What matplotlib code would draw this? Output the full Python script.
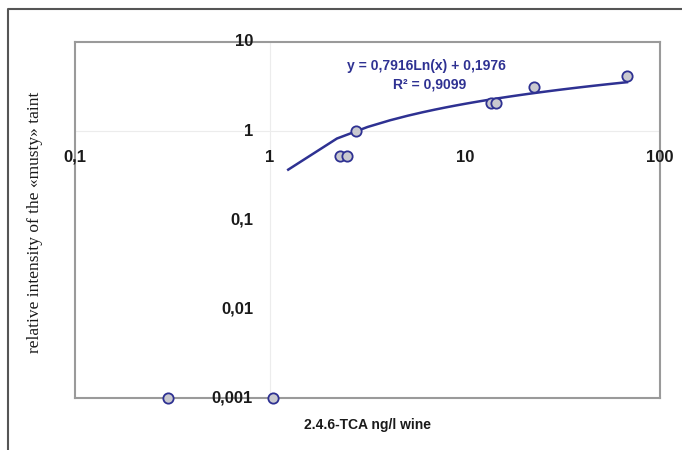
import numpy as np
import matplotlib
matplotlib.use("Agg")
import matplotlib.pyplot as plt
from matplotlib.transforms import offset_copy

# measured points (TCA ng/l vs relative musty intensity)
tca = [0.3, 1.03, 2.29, 2.48, 2.76, 13.6, 14.4, 22.6, 67.7]
intensity = [0.001, 0.001, 0.52, 0.52, 1.0, 2.06, 2.06, 3.12, 4.1]

# logarithmic trend line as printed on the chart
coef_a = 0.7916
coef_b = 0.1976
trend_start, trend_end = 1.24, 67.7

x_ticks = [0.1, 1, 10, 100]
x_tick_labels = ["0,1", "1", "10", "100"]
y_ticks = [10, 1, 0.1, 0.01, 0.001]
y_tick_labels = ["10", "1", "0,1", "0,01", "0,001"]

navy = "#2e3192"
plt.rcParams["font.family"] = ["Liberation Sans", "DejaVu Sans"]

fig = plt.figure(figsize=(6.82, 4.5), dpi=100)
ax = fig.add_axes([75 / 682, 1 - 398 / 450, 585 / 682, 356 / 450])
ax.set_xscale("log")
ax.set_yscale("log")
ax.set_xlim(0.1, 100)
ax.set_ylim(0.001, 10)
ax.set_xticks([])
ax.set_yticks([])
ax.minorticks_off()
for s in ax.spines.values():
    s.set_color("#9a9a9a")
    s.set_linewidth(1.5)

# faint axis lines crossing at 1
ax.axhline(1, color="#ececec", lw=0.8, zorder=0)
ax.axvline(1, color="#ececec", lw=0.8, zorder=0)

# trend line (Excel-like coarse sampling)
xt = np.linspace(trend_start, trend_end, 70)
yt = coef_a * np.log(xt) + coef_b
ax.plot(xt, yt, color=navy, lw=1.8, zorder=2)

ax.scatter(tca, intensity, s=55, facecolor="#c9c9cf", edgecolor=navy,
           linewidth=1.3, zorder=3, clip_on=False)

# tick labels at the crossing axes
tx = offset_copy(ax.transData, fig=fig, x=0, y=-26, units="dots")
for v, lab in zip(x_ticks, x_tick_labels):
    ax.text(v, 1, lab, transform=tx, ha="center", va="center",
            fontsize=12, fontweight="bold", color="#1a1a1a", clip_on=False)
ty = offset_copy(ax.transData, fig=fig, x=-17, y=0, units="dots")
for v, lab in zip(y_ticks, y_tick_labels):
    ax.text(1, v, lab, transform=ty, ha="right", va="center",
            fontsize=12, fontweight="bold", color="#1a1a1a", clip_on=False)

ax.text(0.6, 0.933, "y = 0,7916Ln(x) + 0,1976", transform=ax.transAxes,
        ha="center", va="center", fontsize=10, fontweight="bold", color=navy)
ax.text(0.607, 0.882, "R² = 0,9099", transform=ax.transAxes,
        ha="center", va="center", fontsize=10, fontweight="bold", color=navy)

fig.text(367 / 682, 1 - 425 / 450, "2.4.6-TCA ng/l wine", ha="center", va="center",
         fontsize=10, fontweight="bold", color="#1a1a1a")
fig.text(35 / 682, 1 - 222 / 450, "relative intensity of the «musty» taint",
         rotation=90, ha="center", va="center", fontsize=12.5,
         family="Liberation Serif", color="#1a1a1a")

# outer frame (top and left edges)
fig.add_artist(plt.Line2D([8 / 682, 8 / 682, 1], [0, 1 - 9 / 450, 1 - 9 / 450],
                          transform=fig.transFigure, color="#555555", lw=1.5))

fig.savefig("out.png", dpi=100)
